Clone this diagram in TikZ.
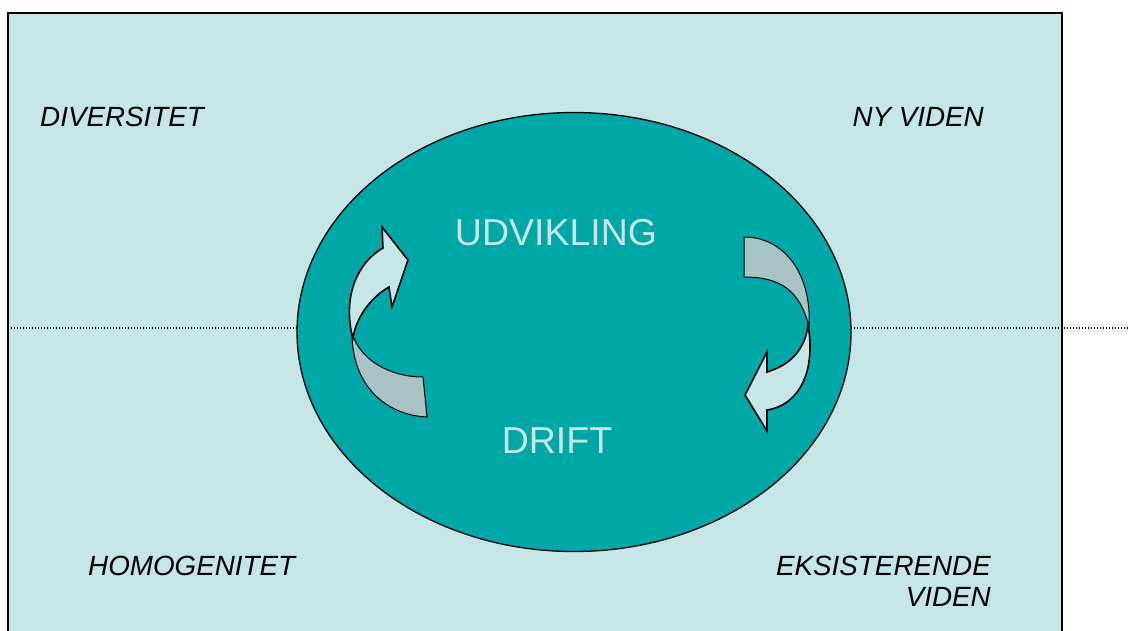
\documentclass[tikz,border=0pt]{standalone}
\usepackage{fontspec}
\setmainfont{Liberation Sans}
\usetikzlibrary{positioning}
\usetikzlibrary{shapes.geometric}

\definecolor{paleblue}{HTML}{C5E5E7}
\definecolor{tealfill}{HTML}{00A7A7}
\definecolor{greyband}{HTML}{A8C3C5}

\tikzset{
  corner/.style={font=\fontsize{27.8}{31}\selectfont\itshape, inner sep=0pt},
  level/.style={font=\fontsize{37.5}{40}\selectfont, text=paleblue, inner sep=0pt},
  band/.style={fill=greyband, draw=black, line width=1pt},
  head/.style={fill=paleblue, draw=black, line width=1.6pt, line join=miter}
}

\begin{document}
\begin{tikzpicture}[x=1pt,y=-1pt]
 \useasboundingbox (0,0) rectangle (1130,630);
 \begin{scope}
 \clip (0,0) rectangle (1130,630);
 \draw[fill=paleblue,line width=2pt] (8,13) rectangle (1062,650);
 \end{scope}
 \draw[line width=1.4pt,dash pattern=on 1.4pt off 1.6pt] (8,328) -- (1130,328);
 \node (core) [ellipse,draw=black,line width=1.3pt,fill=tealfill,
       minimum width=554pt,minimum height=439pt] at (574,332) {};

 % left arrow, upwards
 \draw[band] (352,333) .. controls (352,385) and (385,415) .. (427,417)
       -- (423,377) .. controls (390,377) and (360,360) .. (352,333) -- cycle;
 \draw[head] (352,335) .. controls (343,295) and (358,262) .. (383,248)
       -- (382,227) -- (408,260) -- (392,307) -- (389,287)
       .. controls (370,298) and (356,318) .. (353,338) -- cycle;

 % right arrow, downwards
 \draw[band] (744,237) .. controls (785,237) and (812,275) .. (809,327)
       .. controls (800,290) and (780,277) .. (744,277) -- cycle;
 \draw[head] (808,325) .. controls (816,370) and (800,405) .. (767,410)
       -- (767,431) -- (745,395) -- (767,352) -- (767,372)
       .. controls (790,365) and (805,350) .. (808,325) -- cycle;

 \node (up) [level] at (556,233) {UDVIKLING};
 \node (down) [level] at (557,441) {DRIFT};

 \node (div) [corner,anchor=west] at (40,117) {DIVERSITET};
 \node (new) [corner,anchor=east] at (984,117) {NY VIDEN};
 \node (hom) [corner,anchor=west] at (88,566) {HOMOGENITET};
 \node (old) [corner,anchor=north east,align=right] at (991,556)
       {EKSISTERENDE\\VIDEN};
\end{tikzpicture}
\end{document}
